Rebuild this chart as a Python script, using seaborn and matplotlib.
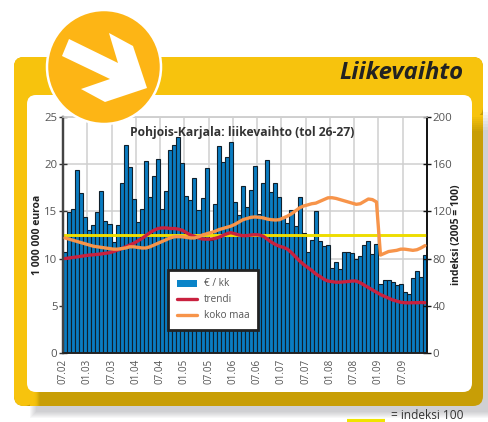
import numpy as np
import pandas as pd
import seaborn as sns
import matplotlib
matplotlib.use("Agg")
import matplotlib.pyplot as plt
from matplotlib.patches import Circle, FancyBboxPatch, Polygon, Rectangle

# monthly turnover, left axis
euro = [10.7, 14.9, 15.3, 19.4, 17.0, 14.4, 13.0, 13.6, 14.9, 17.2, 14.0, 13.7, 11.8, 13.6, 18.0,
        22.0, 19.7, 16.3, 13.9, 15.3, 20.3, 16.5, 18.7, 20.6, 15.3, 17.2, 21.5, 22.0, 22.9, 20.1,
        16.6, 16.2, 18.5, 15.2, 16.4, 19.6, 12.0, 15.8, 21.9, 20.2, 20.8, 22.3, 16.0, 14.6, 17.7,
        15.5, 17.3, 19.8, 14.7, 18.0, 20.4, 17.1, 18.0, 16.5, 14.3, 13.8, 15.2, 13.5, 16.5, 12.7,
        10.7, 12.0, 15.0, 11.9, 11.3, 11.4, 9.0, 9.6, 8.9, 10.7, 10.7, 10.6, 10.0, 10.3, 11.4,
        11.9, 10.5, 11.5, 7.3, 7.7, 7.7, 7.5, 7.2, 7.3, 6.5, 6.2, 7.9, 8.7, 8.0, 10.4]

# index values, right axis
trendi = [80, 80.5, 81, 81.5, 82, 82.5, 83, 83.2, 83.6, 84, 84.5, 85, 86, 87.2, 88.5,
          90, 91.5, 93, 95, 97, 99.5, 102, 104, 105.5, 106, 106, 105.5, 105.5, 105, 104,
          102, 100, 99, 97.5, 96.6, 96.5, 96.5, 97, 98, 99.5, 101, 102, 101, 100, 99.4,
          99.5, 100, 100.3, 100, 99, 96.5, 94, 92, 90.5, 89.5, 88, 85, 81.5, 78, 75,
          72.5, 70, 67, 65, 62.5, 61, 60.5, 60, 60, 60.3, 60.6, 61, 61, 59.5, 57.5,
          55.5, 53.5, 51.5, 49.5, 48, 46.5, 45, 44, 43, 42.6, 42.5, 42.6, 42.6, 42.8, 42.6]
koko_maa = [97.5, 96.5, 95.5, 94.5, 93.5, 92.5, 91.5, 90.5, 90, 89.5, 89, 88.5, 88, 88, 88.5,
            89, 90, 90, 89.5, 89, 89, 90, 91.5, 93, 94.5, 96, 97.5, 98.5, 98.6, 98.5,
            98, 97.5, 97.5, 98.5, 100, 101, 102, 103, 104.5, 105.5, 106.5, 107.5, 109, 111, 113,
            114, 115, 115.3, 115, 114.5, 113.5, 113, 112.7, 113, 114.5, 116, 118, 120.5, 123, 124.6,
            125.5, 126.5, 127, 128.5, 130, 131.5, 131.6, 131, 130, 129, 128, 127, 126, 126.5, 128.5,
            130.5, 130, 128, 83, 84.5, 86, 86.5, 87, 88, 88, 87.5, 87, 87.5, 89, 91]

x_labels = ['07.02', '01.03', '07.03', '01.04', '07.04', '01.05', '07.05', '01.06',
            '07.06', '01.07', '07.07', '01.08', '07.08', '01.09', '07.09']
left_ticks = [0, 5, 10, 15, 20, 25]
right_ticks = [0, 40, 80, 120, 160, 200]

df = pd.DataFrame({'month': np.arange(len(euro)) + 0.5, 'euro': euro, 'trendi': trendi, 'koko': koko_maa})

sns.set_style("white")
plt.rcParams['font.family'] = ['Open Sans', 'DejaVu Sans']

W, H = 488, 422
fig = plt.figure(figsize=(W / 100, H / 100), dpi=100)

# page background in pixel coordinates
bg = fig.add_axes([0, 0, 1, 1], zorder=0)
bg.set_xlim(0, W)
bg.set_ylim(H, 0)
bg.axis('off')
# soft shadow below and to the right
for i in range(7):
    bg.add_patch(Rectangle((30 + i, 112 + i * 3), 465, 306 - i * 4, fc='#70707a', ec='none', alpha=0.05))
# gold edge, then the bright yellow top and left parts
bg.add_patch(FancyBboxPatch((14, 57), 469, 349, boxstyle="round,pad=0,rounding_size=10", fc='#c89e06', ec='none'))
bg.add_patch(FancyBboxPatch((14, 57), 469, 60, boxstyle="round,pad=0,rounding_size=10", fc='#f7c30d', ec='none'))
bg.add_patch(FancyBboxPatch((14, 57), 20, 349, boxstyle="round,pad=0,rounding_size=10", fc='#f7c30d', ec='none'))
for i in range(8):
    bg.add_patch(Rectangle((30 + i, 385), 3, 21, fc='#f7c30d', ec='none', alpha=1 - i / 8))
    bg.add_patch(Rectangle((472, 115 + i * 2), 11, 2, fc='#f7c30d', ec='none', alpha=1 - i / 8))
bg.add_patch(FancyBboxPatch((27, 95), 445, 297, boxstyle="round,pad=0,rounding_size=9", fc='white', ec='none'))
bg.plot([347, 385], [420.5, 420.5], color='#f0e400', lw=3, solid_capstyle='butt')
bg.text(391, 415.5, '= indeksi 100', fontsize=8.6, color='#333333', va='center', ha='left')
bg.text(464, 73, 'Liikevaihto', fontsize=17.2, fontweight='bold', fontstyle='italic', color='#222222',
        va='center', ha='right')

ax = fig.add_axes([63 / W, (H - 353) / H, 364 / W, 236 / H], zorder=2)
ax.patch.set_alpha(0)
sns.barplot(data=df, x='month', y='euro', native_scale=True, width=1.0, color='#0a7cc1', saturation=1,
            edgecolor='#10202c', linewidth=0.8, label='€ / kk', ax=ax, zorder=2)
ax.set_xlim(0, 90)
ax.set_ylim(0, 25)
ax.set_xticks(np.arange(0, 90, 6))
ax.set_xticklabels(x_labels, rotation=90, fontsize=7.1, color='#555555')
ax.set_yticks(left_ticks)
ax.set_yticklabels(left_ticks, fontsize=8.2, color='#555555')
ax.set_xlabel('')
ax.set_ylabel('1 000 000 euroa', fontsize=7.5, fontweight='bold', color='#222222')
ax.yaxis.set_label_coords(-0.056, 0.5)
ax.grid(True, color='#cfcfcf', lw=1.1, zorder=0)
ax.set_axisbelow(True)
ax.tick_params(axis='both', direction='inout', length=6, width=1, color='#333333', pad=1)

ax2 = ax.twinx()
ax2.set_zorder(3)
ax2.patch.set_alpha(0)
ax2.axhline(100, color='#eedd00', lw=2.1, zorder=1)
sns.lineplot(data=df, x='month', y='trendi', color='#c9213f', lw=2.4, label='trendi', ax=ax2, zorder=2)
sns.lineplot(data=df, x='month', y='koko', color='#f7944a', lw=2.4, label='koko maa', ax=ax2, zorder=3)
ax2.set_ylim(0, 200)
ax2.set_yticks(right_ticks)
ax2.set_yticklabels(right_ticks, fontsize=8.2, color='#555555')
ax2.set_ylabel('indeksi (2005 = 100)', fontsize=7.5, fontweight='bold', color='#222222')
ax2.yaxis.set_label_coords(1.066, 0.5)
ax2.tick_params(axis='y', direction='inout', length=6, width=1, color='#111111', pad=1)

for a in (ax, ax2):
    a.spines['top'].set_color('#cfcfcf')
    a.spines['top'].set_linewidth(1.1)
    a.spines['bottom'].set_color('#222222')
    a.spines['bottom'].set_linewidth(1.2)
    a.spines['right'].set_color('#111111')
    a.spines['right'].set_linewidth(1.2)
    a.spines['left'].set_color('#444444')
    a.spines['left'].set_linewidth(1.6)

h1, l1 = ax.get_legend_handles_labels()
h2, l2 = ax2.get_legend_handles_labels()
if ax.get_legend() is not None:
    ax.get_legend().remove()
leg = ax2.legend(h1 + h2, l1 + l2, loc='center left', bbox_to_anchor=((168 - 63) / 364, (353 - 300) / 236),
                 borderaxespad=0, fontsize=7.2, frameon=True, fancybox=False, framealpha=1, edgecolor='#222222',
                 labelcolor='#555555', handlelength=2.0, handletextpad=0.7, labelspacing=0.5, borderpad=0.85)
leg.get_frame().set_linewidth(2)
leg.set_zorder(10)
leg.legend_handles[0].set_edgecolor('none')
leg.legend_handles[0].set_facecolor('#0a84c8')
ax2.text(0.491, 0.936, 'Pohjois-Karjala: liikevaihto (tol 26-27)', transform=ax2.transAxes, fontsize=8.7,
         fontweight='bold', color='#333333', ha='center', va='center', zorder=6)

# round badge over the corner
top = fig.add_axes([0, 0, 1, 1], zorder=5)
top.set_xlim(0, W)
top.set_ylim(H, 0)
top.axis('off')
top.add_patch(Circle((104, 67), 57, fc='#fdb515', ec='white', lw=1.8))
top.add_patch(Polygon([(69, 39), (118, 63), (109, 33), (133, 46), (147, 88), (105, 102), (81, 89), (110, 79), (62, 56)],
                      closed=True, fc='white', ec='none'))

fig.savefig('out.png', dpi=100)
